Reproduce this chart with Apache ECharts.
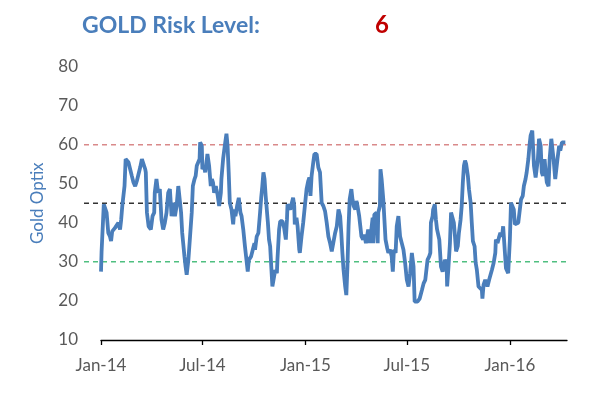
<!DOCTYPE html>
<html>
<head>
<meta charset="utf-8">
<script src="https://cdn.jsdelivr.net/npm/echarts@6/dist/echarts.min.js"></script>
<style>
html,body{margin:0;padding:0;background:#fff;}
#chart{width:589px;height:394px;}
</style>
</head>
<body>
<div id="chart"></div>
<script>
// Days since 2014-01-01
const dayOffsets = [
0,1,3,5,8,10,13,16,18,20,22,25,28,31,34,36,38,42,44,46,49,52,55,58,61,64,67,70,73,76,79,80,82,85,89,92,95,96,99,102,105,108,111,114,117,120,123,126,129,
132,135,138,140,143,145,149,151,153,156,159,162,164,167,169,171,174,176,177,180,181,184,186,189,190,193,196,198,200,202,205,206,208,211,214,215,218,221,224,226,228,230,233,236,238,240,243,246,249,251,254,257,259,262,264,268,271,274,
275,278,281,284,286,288,290,292,294,296,298,300,302,304,306,308,311,314,315,318,320,324,327,330,332,333,336,338,340,343,345,346,349,351,354,355,358,361,364,367,370,372,374,376,379,381,385,388,391,394,397,400,403,406,409,412,415,
418,421,424,427,429,431,433,436,438,440,442,444,447,449,451,454,456,458,461,463,465,468,470,473,475,477,480,482,485,486,488,492,494,495,498,499,501,504,506,508,511,513,516,519,521,523,526,528,531,534,537,540,543,546,549,552,555,558,560,
562,565,569,573,576,579,582,583,586,588,589,592,593,596,598,600,602,604,607,610,612,614,617,618,620,623,625,627,630,632,634,637,639,642,644,646,648,650,652,655,657,660,662,664,667,669,671,674,677,680,681,683,686,688,690,693,695,698,701,
704,705,708,711,713,716,718,721,723,726,727,730,732,735,737,739,742,745,748,750,753,755,758,760,763,765,767,770,771,773,776,778,780,782,785,787,789,792,794,796,799,801,804,806,808,811,813,815,818,820,823,826,829
];
const goldOptix = [
27.5,32.5,33,44.7,44.3,42.6,37.4,36.5,35.3,37.8,37.4,38.7,38.3,40,38.3,40.8,44.3,49.4,56.3,56.7,55.5,55.5,52,50.3,49.4,50.7,50.3,54.2,56.3,56.7,53.7,52.9,42.6,39.1,38.3,41.7,42.6,47.7,51.2,47.7,48.6,40.8,38.3,40,42.6,47.7,48.6,41.7,45.1,
41.7,44.3,49.4,49.4,42.6,37.4,31.4,28.8,26.7,30.5,36.5,42.6,49.4,51.2,52,54.6,54.2,56.3,60.6,59.7,53.7,54.6,52.9,56.3,57.6,54.6,49.4,51.2,50.3,47.7,49.4,48.6,47.3,44.3,47.7,51.2,56.3,59.7,62.8,59.7,52.9,45.1,43.4,39.6,43.4,41.7,44.3,46.4,42.6,41.7,38.3,34,31.4,27.5,30.5,31.4,33.1,34.8,
33.1,36.5,37.4,42.6,46.4,49.4,52.9,51.2,46.9,46.9,40,35.7,34,28.8,23.7,23.7,27.9,27.1,30.5,38.3,40.4,40.4,38.7,35.7,40.8,44.7,44.3,43.4,44.7,46.4,44.3,39.6,41.3,39.1,33.1,32.3,36.5,40,40.4,48.6,50.7,51.6,46.9,52,55.5,57.6,57.6,54.2,52.9,45.1,44.3,43,40,36.5,34.8,32.7,33.1,
37.4,39.1,43.4,41.7,37.4,32.3,28,23.7,21.5,28.8,39.1,46,48.6,46,44.3,43.4,45.6,44.3,41.7,39.1,36.5,35.7,37,34.8,36.5,38.3,34.8,37.4,41.3,34.8,42.1,42.6,34.8,42.6,44.3,53.7,51.2,46,40.8,35.7,33.5,32.3,33.1,31.4,27.5,33.1,32.3,39.1,41.7,36.5,34.8,33.1,29.7,25.4,23.7,27.1,32.3,28.8,19.8,
20.2,19.8,20.6,22.8,24.5,25.4,25,30.5,31.4,32.3,40,41.7,43.4,44.7,40.8,38.3,38.7,35.7,28.8,27.5,28.8,30.5,29.7,23.7,27.9,34.8,42.6,42.1,40,36.5,32.7,34,37.4,40.8,44.3,50.3,54.6,55.9,55,52,48.6,45.1,40,35.3,34,29.7,28,23.7,23.7,22.8,20.6,24.1,25.4,25,23.7,25.4,25.8,28,29.7,
32.3,35.7,34.8,36.5,37.4,36.5,39.1,39.6,28.4,28,27.1,35.7,45.1,45.6,43.4,39.6,39.6,40,39.6,46,46.9,49.4,51.2,52.9,56.3,59.7,62.3,63.6,60.6,54.6,51.6,51.2,56.3,61.5,59.7,52.9,52,56.3,52.9,50.3,49.4,56.3,61.5,61.5,56.3,51.2,50.7,56.3,59.7,58.5,60.6,60.2,60.6
];
const tickDates = ['2014-01-01','2014-07-01','2015-01-01','2015-07-01','2016-01-01'];
const tickLabels = ['Jan-14','Jul-14','Jan-15','Jul-15','Jan-16'];
const axisEndDate = '2016-04-12';
const levels = [60, 45, 30];
const levelColors = ['#d9898a','#333333','#4fbf80'];
const riskLevel = '6';

const dayMs = 86400000;
const base = Date.UTC(2014,0,1);
const toDay = s => { const p = s.split('-').map(Number); return Math.round((Date.UTC(p[0],p[1]-1,p[2]) - base)/dayMs); };
const tickDays = tickDates.map(toDay);
const maxDay = toDay(axisEndDate);
const lineData = dayOffsets.map((d,i)=>[d, goldOptix[i]]);

const font = 'Lato, "Liberation Sans", sans-serif';
const chart = echarts.init(document.getElementById('chart'), null, {renderer:'canvas'});
const levelSeries = levels.map((v,i)=>({
  type:'line', xAxisIndex:1, yAxisIndex:1, silent:true, symbol:'none', animation:false,
  data:[[0,v],[1,v]],
  lineStyle:{color:levelColors[i], width:1.5, type:[5,4]}, z:1
}));
chart.setOption({
  animation:false,
  backgroundColor:'#ffffff',
  title:[
    {text:'GOLD Risk Level:', left:77, top:9, textStyle:{fontFamily:font, fontSize:23, fontWeight:'bold', color:'#4a7ebb'}},
    {text:riskLevel, left:370, top:8, textStyle:{fontFamily:font, fontSize:24, fontWeight:'bold', color:'#c00000'}}
  ],
  grid:[
    {left:101, right:22, top:66.5, bottom:54, containLabel:false},
    {left:84, right:22, top:66.5, bottom:54, containLabel:false}
  ],
  xAxis:[
    {type:'value', gridIndex:0, min:0, max:maxDay,
     axisLine:{show:true, lineStyle:{color:'#000', width:1.3}},
     axisTick:{show:true, customValues:tickDays, length:5, lineStyle:{color:'#000', width:1.3}},
     axisLabel:{customValues:tickDays, margin:17, color:'#595959', fontFamily:font, fontSize:17,
       formatter:(v)=>{const i=tickDays.indexOf(Math.round(v)); return i>=0?tickLabels[i]:'';}},
     splitLine:{show:false}},
    {type:'value', gridIndex:1, min:0, max:1, show:false}
  ],
  yAxis:[
    {type:'value', gridIndex:0, min:10, max:80, interval:10,
     name:'Gold Optix', nameLocation:'middle', nameGap:55, nameRotate:90,
     nameTextStyle:{color:'#4a7ebb', fontFamily:font, fontSize:17},
     axisLine:{show:false}, axisTick:{show:false}, splitLine:{show:false},
     axisLabel:{color:'#595959', fontFamily:font, fontSize:17, margin:23}},
    {type:'value', gridIndex:1, min:10, max:80, show:false}
  ],
  series:[
    ...levelSeries,
    {type:'line', xAxisIndex:0, yAxisIndex:0, data:lineData, symbol:'none', smooth:false,
     lineStyle:{color:'#4a7ebb', width:3.8}, z:5}
  ]
});
</script>
</body>
</html>
